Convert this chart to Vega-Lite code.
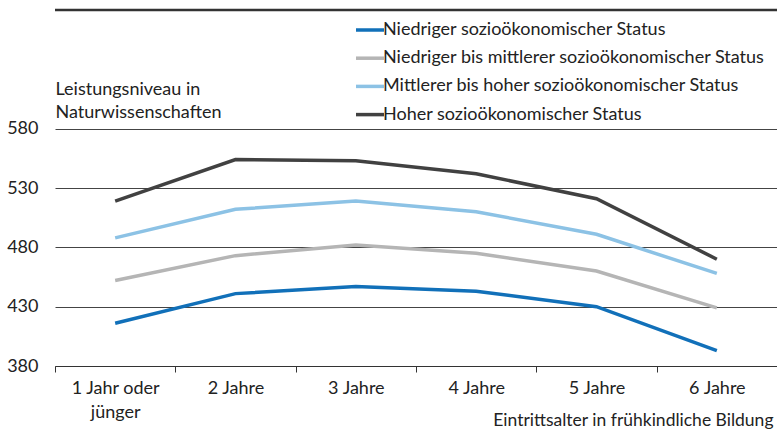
{
  "$schema": "https://vega.github.io/schema/vega-lite/v6.json",
  "width": 722,
  "height": 356,
  "autosize": {"type": "none"},
  "padding": {"left": 55, "top": 10, "right": 0, "bottom": 64},
  "config": {
    "font": "Lato",
    "view": {"stroke": null},
    "axis": {"labelColor": "#222", "titleColor": "#222", "labelFontSize": 18, "titleFontSize": 18, "titleFontWeight": "normal"}
  },
  "layer": [
    {
      "data": {"values": [{"top": 680}]},
      "mark": {"type": "rule", "color": "#333", "strokeWidth": 2.5},
      "encoding": {"y": {"field": "top", "type": "quantitative"}}
    },
    {
      "data": {
        "values": [
          {"alter": "1 Jahr oder jünger", "status": "Niedriger sozioökonomischer Status", "wert": 416},
          {"alter": "2 Jahre", "status": "Niedriger sozioökonomischer Status", "wert": 441},
          {"alter": "3 Jahre", "status": "Niedriger sozioökonomischer Status", "wert": 447},
          {"alter": "4 Jahre", "status": "Niedriger sozioökonomischer Status", "wert": 443},
          {"alter": "5 Jahre", "status": "Niedriger sozioökonomischer Status", "wert": 430},
          {"alter": "6 Jahre", "status": "Niedriger sozioökonomischer Status", "wert": 393},
          {"alter": "1 Jahr oder jünger", "status": "Niedriger bis mittlerer sozioökonomischer Status", "wert": 452},
          {"alter": "2 Jahre", "status": "Niedriger bis mittlerer sozioökonomischer Status", "wert": 473},
          {"alter": "3 Jahre", "status": "Niedriger bis mittlerer sozioökonomischer Status", "wert": 482},
          {"alter": "4 Jahre", "status": "Niedriger bis mittlerer sozioökonomischer Status", "wert": 475},
          {"alter": "5 Jahre", "status": "Niedriger bis mittlerer sozioökonomischer Status", "wert": 460},
          {"alter": "6 Jahre", "status": "Niedriger bis mittlerer sozioökonomischer Status", "wert": 429},
          {"alter": "1 Jahr oder jünger", "status": "Mittlerer bis hoher sozioökonomischer Status", "wert": 488},
          {"alter": "2 Jahre", "status": "Mittlerer bis hoher sozioökonomischer Status", "wert": 512},
          {"alter": "3 Jahre", "status": "Mittlerer bis hoher sozioökonomischer Status", "wert": 519},
          {"alter": "4 Jahre", "status": "Mittlerer bis hoher sozioökonomischer Status", "wert": 510},
          {"alter": "5 Jahre", "status": "Mittlerer bis hoher sozioökonomischer Status", "wert": 491},
          {"alter": "6 Jahre", "status": "Mittlerer bis hoher sozioökonomischer Status", "wert": 458},
          {"alter": "1 Jahr oder jünger", "status": "Hoher sozioökonomischer Status", "wert": 519},
          {"alter": "2 Jahre", "status": "Hoher sozioökonomischer Status", "wert": 554},
          {"alter": "3 Jahre", "status": "Hoher sozioökonomischer Status", "wert": 553},
          {"alter": "4 Jahre", "status": "Hoher sozioökonomischer Status", "wert": 542},
          {"alter": "5 Jahre", "status": "Hoher sozioökonomischer Status", "wert": 521},
          {"alter": "6 Jahre", "status": "Hoher sozioökonomischer Status", "wert": 470}
        ]
      },
      "mark": {"type": "line", "strokeWidth": 3.5},
      "encoding": {
        "x": {
          "field": "alter",
          "type": "nominal",
          "sort": ["1 Jahr oder jünger", "2 Jahre", "3 Jahre", "4 Jahre", "5 Jahre", "6 Jahre"],
          "bandPosition": 0.5,
          "scale": {"type": "band", "paddingInner": 0, "paddingOuter": 0},
          "axis": {
            "labelAngle": 0,
            "labelExpr": "datum.label == '1 Jahr oder jünger' ? ['1 Jahr oder', 'jünger'] : datum.label",
            "labelLineHeight": 24,
            "labelPadding": 7,
            "labelBaseline": "top",
            "tickBand": "extent",
            "tickSize": 6,
            "tickColor": "#333",
            "domainColor": "#333",
            "title": "Eintrittsalter in frühkindliche Bildung",
            "titleX": 718,
            "titleY": 54,
            "titleFontSize": 17.5,
            "titleAlign": "right",
            "titleBaseline": "middle"
          }
        },
        "y": {
          "field": "wert",
          "type": "quantitative",
          "scale": {"domain": [380, 680], "nice": false, "zero": false},
          "axis": {
            "values": [380, 430, 480, 530, 580],
            "grid": true,
            "gridColor": "#444",
            "domain": false,
            "ticks": false,
            "labelPadding": 17,
            "title": ["Leistungsniveau in", "Naturwissenschaften"],
            "titleAngle": 0,
            "titleAlign": "left",
            "titleBaseline": "middle",
            "titleX": 0,
            "titleY": 79,
            "titleLineHeight": 23
          }
        },
        "color": {
          "field": "status",
          "type": "nominal",
          "scale": {
            "domain": ["Niedriger sozioökonomischer Status", "Niedriger bis mittlerer sozioökonomischer Status", "Mittlerer bis hoher sozioökonomischer Status", "Hoher sozioökonomischer Status"],
            "range": ["#1170b9", "#b5b5b5", "#8cc2e5", "#414141"]
          },
          "legend": {
            "orient": "none",
            "legendX": 299,
            "legendY": 4,
            "title": null,
            "symbolType": "stroke",
            "symbolSize": 784,
            "symbolStrokeWidth": 3.5,
            "labelFontSize": 18,
            "labelColor": "#222",
            "labelOffset": -3,
            "rowPadding": 3.2,
            "labelLimit": 500
          }
        }
      }
    }
  ]
}
